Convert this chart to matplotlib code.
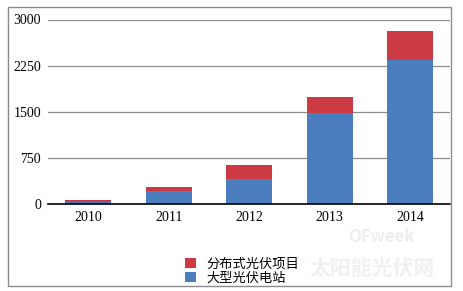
import matplotlib
matplotlib.use("Agg")
import numpy as np
import matplotlib.pyplot as plt
from matplotlib.patches import Rectangle

years = ["2010", "2011", "2012", "2013", "2014"]
large_station = [30, 215, 400, 1480, 2340]
distributed = [35, 65, 240, 260, 470]
yticks = [0, 750, 1500, 2250, 3000]

plt.rcParams['font.family'] = ['Noto Sans CJK SC', 'DejaVu Sans']

fig = plt.figure(figsize=(4.64, 2.91), dpi=100)
ax = fig.add_axes([48/464, 1 - 204/291, (450.5 - 48)/464, (204 - 19.5)/291])

x = np.arange(len(years))
ax.bar(x, large_station, width=0.57, color="#4a7ebf", label="大型光伏电站", zorder=3)
ax.bar(x, distributed, width=0.57, bottom=large_station, color="#cc3a43",
       label="分布式光伏项目", zorder=3)

ax.set_xlim(-0.5, 4.5)
ax.set_ylim(0, 3000)
ax.set_yticks(yticks)
ax.set_yticklabels([str(v) for v in yticks], family="Liberation Serif", fontsize=10)
ax.set_xticks(x)
ax.set_xticklabels(years, family="Liberation Serif", fontsize=10)
ax.tick_params(length=0, pad=5)

ax.grid(axis="y", color="#8c8c8c", linewidth=0.9, zorder=0)
for s in ["left", "right", "top"]:
    ax.spines[s].set_visible(False)
ax.spines["bottom"].set_color("black")
ax.spines["bottom"].set_linewidth(1.2)
ax.spines["bottom"].set_zorder(4)

handles, labels = ax.get_legend_handles_labels()
fig.legend(handles[::-1], labels[::-1], loc="upper left",
           bbox_to_anchor=(180/464, 1 - 252/291), frameon=False,
           fontsize=9.5, handlelength=0.8, handleheight=0.8,
           handletextpad=0.8, labelspacing=0.1, borderaxespad=0)

# faint watermark
fig.text(415/464, 1 - 237/291, "OFweek", color="#eeeeee", fontsize=12,
         fontweight="bold", style="italic", ha="right", va="center", zorder=0)
fig.text(372/464, 1 - 268/291, "太阳能光伏网", color="#f0f0f0", fontsize=15,
         fontweight="bold", ha="center", va="center", zorder=0)

fig.patches.append(Rectangle((8/464, 1 - 286/291), (451 - 8)/464, (286 - 7)/291,
                             transform=fig.transFigure, fill=False,
                             edgecolor="#8c8c8c", linewidth=1.0))

fig.savefig("out.png", dpi=100)
